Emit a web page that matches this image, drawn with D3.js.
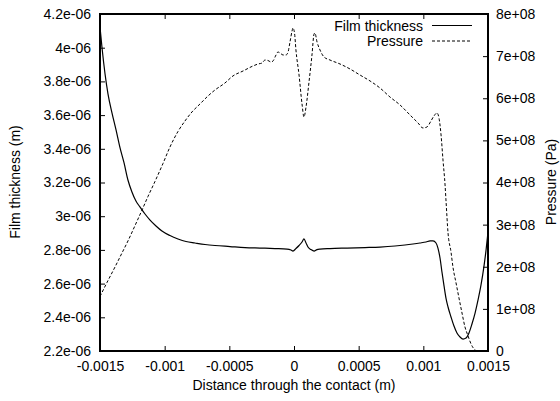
<!DOCTYPE html>
<html><head><meta charset="utf-8">
<script src="https://cdn.jsdelivr.net/npm/d3@7"></script>
<style>
html,body{margin:0;padding:0;background:#fff;}
text{font-family:"Liberation Sans",Arial,sans-serif;font-size:14px;fill:#000;}
</style></head>
<body>
<svg id="chart" width="560" height="401"></svg>
<script>
// ---- data ----
const filmX = [-0.0015,-0.001485,-0.001461,-0.001438,-0.001407,-0.001376,-0.001345,-0.001314,-0.001284,-0.001253,-0.001222,-0.001191,-0.001152,-0.001113,-0.001067,-0.001021,-0.000959,-0.000897,-0.000835,-0.000765,-0.000688,-0.000611,-0.000495,-0.000379,-0.000263,-0.000147,-0.000054,-0.000023,-0.000008,0.000015,0.000039,0.000062,0.000077,0.000093,0.000108,0.000131,0.000155,0.000178,0.000201,0.000278,0.000410,0.000549,0.000665,0.000781,0.000858,0.000920,0.000974,0.001021,0.001052,0.001075,0.001098,0.001113,0.001129,0.001144,0.001160,0.001175,0.001191,0.001214,0.001237,0.001260,0.001284,0.001307,0.001330,0.001353,0.001376,0.001400,0.001423,0.001446,0.001469,0.001485,0.0015];
const filmH = [4.123e-6,4.004e-6,3.844e-6,3.725e-6,3.612e-6,3.512e-6,3.405e-6,3.316e-6,3.215e-6,3.144e-6,3.090e-6,3.055e-6,3.013e-6,2.977e-6,2.942e-6,2.912e-6,2.885e-6,2.865e-6,2.850e-6,2.841e-6,2.832e-6,2.826e-6,2.820e-6,2.814e-6,2.811e-6,2.808e-6,2.805e-6,2.799e-6,2.793e-6,2.808e-6,2.826e-6,2.847e-6,2.865e-6,2.841e-6,2.817e-6,2.802e-6,2.793e-6,2.802e-6,2.805e-6,2.808e-6,2.811e-6,2.814e-6,2.817e-6,2.823e-6,2.829e-6,2.835e-6,2.841e-6,2.847e-6,2.853e-6,2.853e-6,2.841e-6,2.811e-6,2.752e-6,2.669e-6,2.586e-6,2.514e-6,2.461e-6,2.402e-6,2.348e-6,2.307e-6,2.283e-6,2.271e-6,2.277e-6,2.307e-6,2.360e-6,2.425e-6,2.503e-6,2.592e-6,2.704e-6,2.799e-6,2.906e-6];

const pressX = [-0.0015,-0.001446,-0.001384,-0.001330,-0.001284,-0.001229,-0.001175,-0.001129,-0.001075,-0.001013,-0.000959,-0.000897,-0.000843,-0.000789,-0.000727,-0.000665,-0.000611,-0.000534,-0.000472,-0.000394,-0.000317,-0.000278,-0.000247,-0.000224,-0.000201,-0.000178,-0.000162,-0.000139,-0.000124,-0.000108,-0.000085,-0.000062,-0.000046,-0.000031,-0.000015,-0.000008,0.000004,0.000015,0.000039,0.000062,0.000077,0.000093,0.000116,0.000139,0.000155,0.000162,0.000178,0.000201,0.000232,0.000278,0.000356,0.000433,0.000510,0.000588,0.000665,0.000742,0.000820,0.000897,0.000959,0.000997,0.001028,0.001059,0.001082,0.001106,0.001121,0.001137,0.001152,0.001168,0.001175,0.001191,0.001214,0.001229,0.001253,0.001268,0.001299,0.001322,0.001346,0.001369,0.001400,0.001415,0.0015];
const pressP = [1.294e8,1.626e8,1.994e8,2.327e8,2.611e8,2.979e8,3.347e8,3.668e8,4.024e8,4.451e8,4.843e8,5.211e8,5.460e8,5.674e8,5.864e8,6.054e8,6.196e8,6.362e8,6.529e8,6.647e8,6.766e8,6.813e8,6.837e8,6.908e8,6.896e8,6.861e8,6.885e8,7.027e8,7.098e8,7.075e8,7.027e8,7.027e8,7.098e8,7.336e8,7.597e8,7.668e8,7.549e8,7.146e8,6.552e8,5.864e8,5.555e8,5.793e8,6.386e8,7.027e8,7.526e8,7.549e8,7.336e8,7.146e8,6.980e8,6.908e8,6.813e8,6.695e8,6.552e8,6.410e8,6.243e8,6.030e8,5.840e8,5.603e8,5.413e8,5.294e8,5.318e8,5.460e8,5.579e8,5.650e8,5.531e8,5.128e8,4.534e8,3.941e8,3.585e8,2.801e8,2.350e8,1.994e8,1.614e8,1.377e8,0.902e8,0.570e8,0.356e8,0.166e8,0.024e8,0,0];

const xTicks = [-0.0015,-0.001,-0.0005,0,0.0005,0.001,0.0015];
const xTickLabels = ["-0.0015","-0.001","-0.0005","0","0.0005","0.001","0.0015"];
const yTicks = [2.2e-6,2.4e-6,2.6e-6,2.8e-6,3.0e-6,3.2e-6,3.4e-6,3.6e-6,3.8e-6,4.0e-6,4.2e-6];
const yTickLabels = ["2.2e-06","2.4e-06","2.6e-06","2.8e-06","3e-06","3.2e-06","3.4e-06","3.6e-06","3.8e-06","4e-06","4.2e-06"];
const y2Ticks = [0,1e8,2e8,3e8,4e8,5e8,6e8,7e8,8e8];
const y2TickLabels = ["0","1e+08","2e+08","3e+08","4e+08","5e+08","6e+08","7e+08","8e+08"];
const seriesNames = ["Film thickness","Pressure"];

// ---- layout ----
const L = 100, R = 488, T = 14, B = 351;
const svg = d3.select("#chart");
const x = d3.scaleLinear().domain([-0.0015,0.0015]).range([L,R]);
const y = d3.scaleLinear().domain([2.2e-6,4.2e-6]).range([B,T]);
const y2 = d3.scaleLinear().domain([0,8e8]).range([B,T]);

svg.append("defs").append("clipPath").attr("id","clip")
  .append("rect").attr("x",L).attr("y",T).attr("width",R-L).attr("height",B-T);

function styleAxis(g){
  g.select(".domain").remove();
  g.selectAll(".tick line").attr("stroke","#000").attr("stroke-width",1);
  g.selectAll("text").attr("font-family",'"Liberation Sans",Arial,sans-serif').attr("font-size",14).attr("fill","#000");
}
svg.append("g").attr("transform",`translate(0,${B})`)
  .call(d3.axisBottom(x).tickValues(xTicks).tickFormat((d,i)=>xTickLabels[i]).tickSize(-5).tickPadding(10))
  .call(styleAxis);
svg.append("g").attr("transform",`translate(0,${T})`)
  .call(d3.axisTop(x).tickValues(xTicks).tickFormat("").tickSize(-5))
  .call(styleAxis);
svg.append("g").attr("transform",`translate(${L},0)`)
  .call(d3.axisLeft(y).tickValues(yTicks).tickFormat((d,i)=>yTickLabels[i]).tickSize(-5).tickPadding(9))
  .call(styleAxis);
svg.append("g").attr("transform",`translate(${R},0)`)
  .call(d3.axisRight(y2).tickValues(y2Ticks).tickFormat((d,i)=>y2TickLabels[i]).tickSize(-5).tickPadding(8))
  .call(styleAxis);

// curves
const film = filmX.map((v,i)=>[v,filmH[i]]);
const press = pressX.map((v,i)=>[v,pressP[i]]);
const gc = svg.append("g").attr("clip-path","url(#clip)");
gc.append("path").datum(film)
  .attr("d",d3.line().x(d=>x(d[0])).y(d=>y(d[1])).curve(d3.curveMonotoneX))
  .attr("fill","none").attr("stroke","#000").attr("stroke-width",1.2);
gc.append("path").datum(press)
  .attr("d",d3.line().x(d=>x(d[0])).y(d=>y2(d[1])).curve(d3.curveMonotoneX))
  .attr("fill","none").attr("stroke","#000").attr("stroke-width",1).attr("stroke-dasharray","3,2");

// border
svg.append("rect").attr("x",L).attr("y",T).attr("width",R-L).attr("height",B-T)
  .attr("fill","none").attr("stroke","#000").attr("stroke-width",2);

// legend
const leg = svg.append("g");
[[seriesNames[0],25.5,null],[seriesNames[1],41,"3,2"]].forEach(([name,ly,dash])=>{
  leg.append("text").attr("x",423).attr("y",ly+5).attr("text-anchor","end").text(name);
  const ln = leg.append("line").attr("x1",432).attr("x2",472).attr("y1",ly).attr("y2",ly)
    .attr("stroke","#000").attr("stroke-width",dash?1:1.2);
  if(dash) ln.attr("stroke-dasharray",dash);
});

// axis labels
svg.append("text").attr("x",294).attr("y",390).attr("text-anchor","middle").text("Distance through the contact (m)");
svg.append("text").attr("transform","translate(15,182) rotate(-90)").attr("text-anchor","middle").attr("dy","0.35em").text("Film thickness (m)");
svg.append("text").attr("transform","translate(551,182) rotate(-90)").attr("text-anchor","middle").attr("dy","0.35em").text("Pressure (Pa)");
</script>
</body></html>
